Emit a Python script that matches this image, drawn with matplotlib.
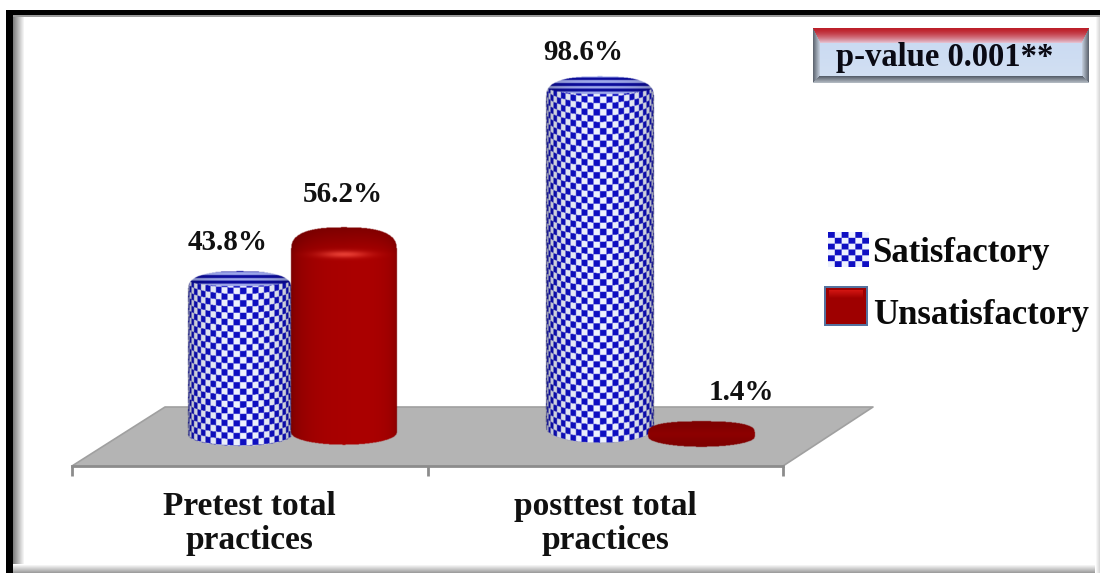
import numpy as np
import matplotlib
matplotlib.use("Agg")
import matplotlib.pyplot as plt

categories = ["Pretest total\npractices", "posttest total\npractices"]
series_names = ["Satisfactory", "Unsatisfactory"]
satisfactory = [43.8, 98.6]
unsatisfactory = [56.2, 1.4]
pvalue_text = "p-value 0.001**"

W, H = 1100, 573
SERIF = "Liberation Serif"
BLUE = np.array([15, 15, 195]) / 255
PALE = np.array([238, 242, 255]) / 255

fig = plt.figure(figsize=(W / 100, H / 100), dpi=100, facecolor="white")

# page layer in pixel units: frame, floor, p-value box, legend
page = fig.add_axes([0, 0, 1, 1], zorder=0)
page.set_xlim(0, W)
page.set_ylim(H, 0)
page.axis("off")

# chart layer: x in category units, y in percent
left, right, bottom, top = 72, 783, 466, 6
chart = fig.add_axes([left / W, 1 - bottom / H, (right - left) / W, (bottom - top) / H], zorder=1)
chart.patch.set_alpha(0)
chart.set_xlim(-0.5, 1.5)
chart.set_ylim(-11, 125)
for s in ["top", "left", "right"]:
    chart.spines[s].set_visible(False)
chart.spines["bottom"].set_color("#8c8c8c")
chart.spines["bottom"].set_linewidth(2)
chart.set_yticks([])
chart.set_xticks([0, 1])
chart.set_xticklabels(categories, family=SERIF, fontweight="bold", fontsize=24,
                      linespacing=1.14, color="#111111")
chart.set_xticks([-0.5, 0.5, 1.5], minor=True)
chart.tick_params(axis="x", which="major", length=0, pad=18)
chart.tick_params(axis="x", which="minor", length=7, width=2, color="#8c8c8c")

fig.canvas.draw()


def to_data_x(px):
    return chart.transData.inverted().transform(page.transData.transform((px, 0)))[0]


def to_data_y(py):
    return chart.transData.inverted().transform(page.transData.transform((0, py)))[1]


def to_px_y(v):
    return page.transData.inverted().transform(chart.transData.transform((0, v)))[1]


def cylinder(cx, value, base, rx, ry_top, ry_bot, drop, kind, zorder):
    # shade a cylinder per pixel, with height taken from the percent axis
    top_c = to_px_y(value) - to_px_y(0) + base
    ss = 2
    y0, y1 = top_c - ry_top - 2, base + ry_bot + 2
    x0, x1 = cx - rx - 2, cx + rx + 2
    xs = np.linspace(x0, x1, int((x1 - x0) * ss))
    ys = np.linspace(y0, y1, int((y1 - y0) * ss))
    X, Y = np.meshgrid(xs, ys)
    nx = np.clip((X - cx) / rx, -1, 1)
    arc = np.sqrt(1 - nx ** 2)
    # rounded shoulder at the top, plain ellipse at the bottom
    shoulder = np.clip(1 - np.abs(nx) ** 2.6, 0, 1) ** (1 / 2.6)
    inside = (np.abs(X - cx) <= rx) & (Y >= top_c + drop - (ry_top + drop) * shoulder) & (Y <= base + ry_bot * arc)
    rgba = np.zeros(X.shape + (4,))
    rgba[..., 3] = inside

    if kind == "check":
        # the cap's front rim is a shallower curve than its back edge
        cap = Y <= top_c - 0.4 * ry_top * (1 - arc)
        cell = 6.3
        u = np.floor(rx * np.arcsin(nx) / cell)
        v = np.floor((Y - ry_bot * arc) / cell)
        mask = ((u + v) % 2 == 0)
        col = np.where(mask[..., None], BLUE, PALE)
        stripes = (np.floor((Y - top_c) / 2.8) % 2 == 0)
        cap_col = np.where(stripes[..., None], BLUE * 0.8, np.array([0.62, 0.66, 0.92]))
        col = np.where(cap[..., None], cap_col, col)
        shade = 0.55 + 0.45 * arc ** 0.6
        rgba[..., :3] = col * shade[..., None]
    elif value < 5:
        # almost no height: a flat dark disc
        glow = np.exp(-((Y - top_c - 2) / 6.0) ** 2)
        rgba[..., 0] = 0.50 + 0.05 * glow
    else:
        side = 0.44 + 0.22 * arc ** 0.8 + 0.06 * np.clip(nx, 0, 1)
        # dark at the back of the cap, easing into the side colour at the rim
        k = np.clip((Y - (top_c - ry_top)) / (ry_top + 12), 0, 1)
        red = np.where(Y < top_c + 12, side * (0.74 + 0.26 * k), side)
        glow = np.exp(-((X - cx) / (rx * 0.45)) ** 2) * np.exp(-((Y - (top_c + 12)) / 3.5) ** 2)
        rgba[..., 0] = np.clip(red + 0.24 * glow, 0, 1)
        rgba[..., 1] = 0.24 * glow
        rgba[..., 2] = 0.2 * glow

    chart.imshow(rgba, extent=(to_data_x(x0), to_data_x(x1), to_data_y(y1), to_data_y(y0)),
                 aspect="auto", interpolation="bilinear", zorder=zorder, clip_on=False)


def bevel_box(x0, y0, x1, y1, fill):
    # p-value box: red top edge, grey sides and bottom, pale blue face
    xs = np.arange(x0, x1) + 0.5
    ys = np.arange(y0, y1) + 0.5
    X, Y = np.meshgrid(xs, ys)
    t = (Y - y0) / (y1 - y0)
    img = np.array(fill)[None, None, :] * np.ones(X.shape + (3,))
    img[..., 0] += 0.05 * t
    img[..., 1] += 0.03 * t
    top_d, bot_d = Y - y0, y1 - Y
    left_d, right_d = X - x0, x1 - X
    side = np.minimum(left_d, right_d)
    is_top = (top_d < 15) & (top_d <= side * 2)
    red = np.array([0.74, 0.12, 0.16])
    pink = np.array([0.90, 0.78, 0.84])
    k = (np.clip(top_d / 15, 0, 1) ** 1.6)[..., None]
    img = np.where(is_top[..., None], red * (1 - k) + pink * k, img)
    is_side = (side < 7) & ~is_top & (bot_d > side)
    k = np.clip(side / 7, 0, 1)[..., None]
    img = np.where(is_side[..., None], np.array([0.35, 0.38, 0.42]) * (1 - k) + np.array([0.78, 0.82, 0.88]) * k, img)
    is_bot = (bot_d <= side) & (bot_d < 7)
    k = np.clip(bot_d / 7, 0, 1)[..., None]
    img = np.where(is_bot[..., None], np.array([0.72, 0.75, 0.78]) * (1 - k) + np.array([0.32, 0.35, 0.4]) * k, img)
    page.imshow(img, extent=(x0, x1, y1, y0), aspect="auto", interpolation="bilinear", zorder=3)


# frame: thick black top and left, soft grey inner edges
page.fill_between([6, W], 10, 15, color="black", lw=0, zorder=2)
page.fill_between([6, 13], 10, H, color="black", lw=0, zorder=2)
page.fill_between([13, W], 15, 17, color="#9a9a9a", lw=0, zorder=1)
ramp = np.linspace(0.5, 1, 12)[None, :]
page.imshow(ramp, extent=(13, 25, H, 17), cmap="gray", vmin=0, vmax=1, aspect="auto", zorder=1)
ramp = np.linspace(1, 0.62, 9)[:, None]
page.imshow(ramp, extent=(13, W, H, H - 9), cmap="gray", vmin=0, vmax=1, aspect="auto", zorder=1)
ramp = np.linspace(1, 0.85, 5)[None, :]
page.imshow(ramp, extent=(W - 5, W, H, 17), cmap="gray", vmin=0, vmax=1, aspect="auto", zorder=1)

# floor of the 3d plot
page.fill([72, 783, 873, 165], [466, 466, 407, 407], color="#b4b4b4", lw=0, zorder=2)
page.plot([72, 165, 873, 783], [466, 407, 407, 466], color="#a0a0a0", lw=1.2, zorder=2)

bevel_box(813, 28, 1089, 83, (0.78, 0.85, 0.95))
page.text(945, 57.5, pvalue_text, family=SERIF, fontweight="bold", fontsize=23.5,
          ha="center", va="center", color="#0a0a14", zorder=4)

# legend swatches and names
n = 6
cy, cx_ = np.meshgrid(np.arange(n), np.arange(n), indexing="ij")
swatch = np.where(((cy + cx_) % 2 == 0)[..., None], BLUE, PALE)
swatch = np.repeat(np.repeat(swatch, 6, axis=0), 6, axis=1)
page.imshow(swatch, extent=(828, 869, 267, 232), aspect="auto", interpolation="bilinear", zorder=3)
xs, ys = np.meshgrid(np.linspace(0, 1, 44), np.linspace(0, 1, 40))
edge = np.minimum(np.minimum(xs, 1 - xs), np.minimum(ys, 1 - ys))
swatch = np.zeros(xs.shape + (3,))
swatch[..., 0] = 0.62 + 0.3 * np.clip(1 - ys / 0.3, 0, 1) * (edge > 0.1)
swatch[..., 1] = 0.12 * np.clip(1 - ys / 0.3, 0, 1) * (edge > 0.1)
swatch[..., 2] = 0.1 * np.clip(1 - ys / 0.3, 0, 1) * (edge > 0.1)
swatch[edge < 0.04] = (0.33, 0.45, 0.62)
page.imshow(swatch, extent=(824, 868, 326, 286), aspect="auto", interpolation="bilinear", zorder=3)
page.text(872, 253.5, series_names[0], family=SERIF, fontweight="bold", fontsize=25,
          ha="left", va="center", color="#0a0a0a", zorder=4)
page.text(873, 316, series_names[1], family=SERIF, fontweight="bold", fontsize=25,
          ha="left", va="center", color="#0a0a0a", zorder=4)

# cylinders: centre, base row and radii differ a little with the perspective
cylinder(240, satisfactory[0], 435, 52, 15, 11, 3, "check", 2)
cylinder(344, unsatisfactory[0], 433, 53, 15, 12, 7, "solid", 3)
cylinder(600, satisfactory[1], 428, 54, 18, 15, 2, "check", 2)
cylinder(701, unsatisfactory[1], 437, 53, 11, 10, 0, "solid", 3)
chart.set_xlim(-0.5, 1.5)
chart.set_ylim(-11, 125)

# value labels
for px, py, v in [(228, 242, satisfactory[0]), (343, 195, unsatisfactory[0]),
                  (583, 53, satisfactory[1]), (741, 392, unsatisfactory[1])]:
    chart.text(to_data_x(px), to_data_y(py), f"{v}%", family=SERIF, fontweight="bold",
               fontsize=21, ha="center", va="center", color="#111111", zorder=5, clip_on=False)

fig.savefig("out.png", dpi=100)
